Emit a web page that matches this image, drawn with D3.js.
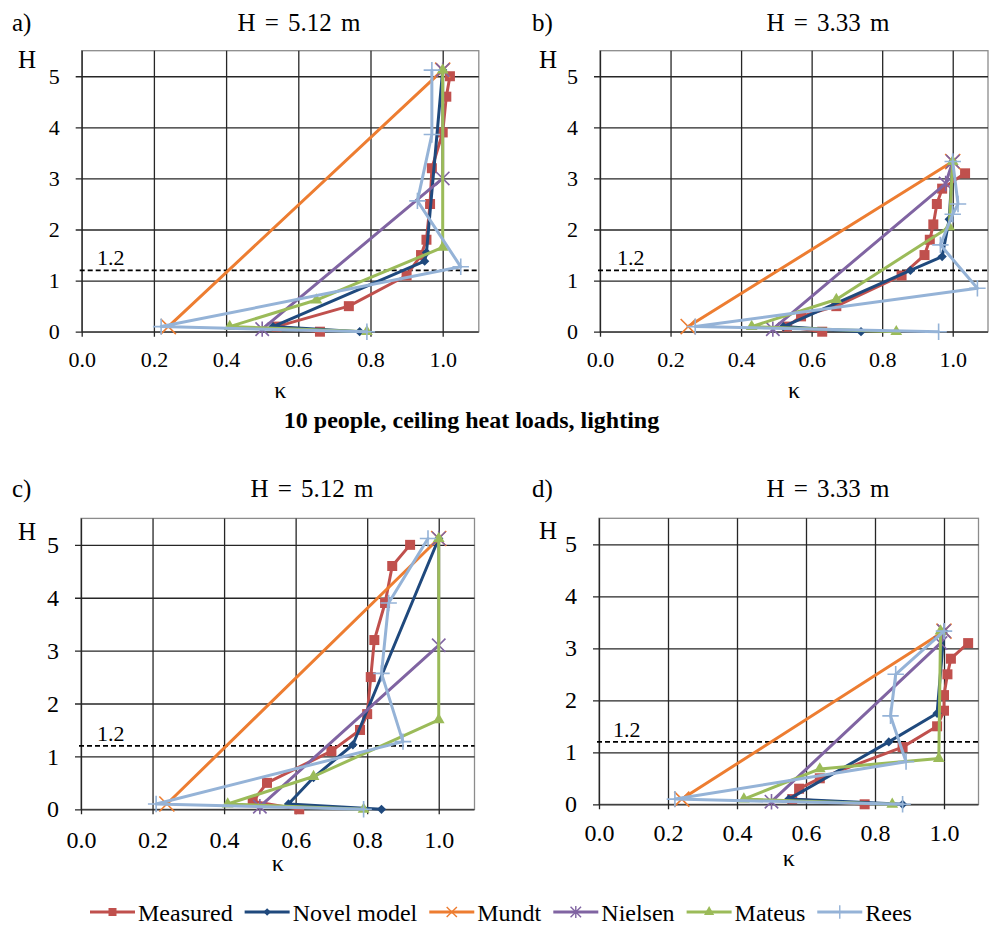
<!DOCTYPE html>
<meta charset="utf-8">
<style>
  body {
    margin: 0;
    background: #fff;
  }

  svg {
    display: block;
    font-family: "Liberation Serif", "Times New Roman", serif;
  }

  .grid line {
    stroke: #262626;
    stroke-width: 1.3;
  }

  .frame {
    fill: none;
    stroke: #8c8c8c;
    stroke-width: 1.3;
  }

  .series {
    fill: none;
    stroke-width: 3;
    stroke-linejoin: round;
    stroke-linecap: round;
  }
</style>

<body>
  <svg width="997" height="927"></svg>
</body>
<script src="https://d3js.org/d3.v7.min.js"></script>
<script>
  // axis ticks, shared by all four panels
  var xTicks = [0.0, 0.2, 0.4, 0.6, 0.8, 1.0];
  var yTicks = [0, 1, 2, 3, 4, 5];
  var refHeight = 1.2;

  var seriesNames = ["Measured", "Novel model", "Mundt", "Nielsen", "Mateus", "Rees"];

  // each point is [kappa, H]
  // a) 10 people, H = 5.12 m
  var aMeasured = [[0.66, 0.0], [0.54, 0.1], [0.74, 0.5], [0.90, 1.1], [0.94, 1.5], [0.955, 1.8], [0.965, 2.5], [0.97, 3.2], [1.0, 3.9], [1.01, 4.6], [1.02, 5.0]];
  var aNovel = [[0.77, 0.0], [0.53, 0.1], [0.95, 1.38], [0.955, 1.55], [1.0, 5.12]];
  var aMundt = [[0.24, 0.1], [1.0, 5.12]];
  var aNielsen = [[0.5, 0.05], [1.0, 3.0], [1.0, 5.12]];
  var aMateus = [[0.79, 0.0], [0.41, 0.1], [0.65, 0.62], [1.0, 1.65], [1.0, 5.12]];
  var aRees = [[0.79, 0.0], [0.22, 0.1], [1.05, 1.27], [0.93, 2.56], [0.97, 3.86], [0.97, 5.12]];

  // b) H = 3.33 m
  var bMeasured = [[0.63, 0.0], [0.53, 0.1], [0.57, 0.3], [0.67, 0.5], [0.855, 1.1], [0.92, 1.5], [0.935, 1.8], [0.945, 2.1], [0.955, 2.5], [0.97, 2.8], [1.035, 3.1]];
  var bNovel = [[0.74, 0.0], [0.52, 0.1], [0.88, 1.2], [0.97, 1.47], [0.99, 2.2], [1.0, 3.33]];
  var bMundt = [[0.25, 0.1], [1.0, 3.33]];
  var bNielsen = [[0.49, 0.05], [0.98, 2.9], [1.0, 3.33]];
  var bMateus = [[0.84, 0.0], [0.43, 0.1], [0.67, 0.63], [0.99, 2.05], [1.0, 3.33]];
  var bRees = [[0.96, 0.0], [0.27, 0.1], [1.07, 0.85], [0.965, 1.7], [1.0, 2.3], [1.015, 2.5], [1.0, 3.33]];

  // c) H = 5.12 m
  var cMeasured = [[0.61, 0.0], [0.48, 0.15], [0.52, 0.5], [0.70, 1.1], [0.78, 1.5], [0.80, 1.8], [0.81, 2.5], [0.82, 3.2], [0.85, 3.9], [0.87, 4.6], [0.92, 5.0]];
  var cNovel = [[0.84, 0.0], [0.58, 0.1], [0.65, 0.6], [0.76, 1.22], [1.0, 5.12]];
  var cMundt = [[0.24, 0.1], [1.0, 5.12]];
  var cNielsen = [[0.5, 0.05], [1.0, 3.1], [1.0, 5.12]];
  var cMateus = [[0.79, 0.0], [0.41, 0.1], [0.65, 0.62], [1.0, 1.69], [1.0, 5.12]];
  var cRees = [[0.79, 0.0], [0.21, 0.1], [0.9, 1.28], [0.84, 2.57], [0.86, 3.9], [0.97, 5.12]];

  // d) H = 3.33 m
  var dMeasured = [[0.77, 0.0], [0.56, 0.1], [0.58, 0.3], [0.64, 0.5], [0.88, 1.1], [0.98, 1.5], [1.0, 1.8], [1.0, 2.1], [1.01, 2.5], [1.02, 2.8], [1.07, 3.1]];
  var dNovel = [[0.88, 0.0], [0.55, 0.1], [0.84, 1.2], [0.98, 1.75], [1.0, 3.33]];
  var dMundt = [[0.24, 0.1], [1.0, 3.33]];
  var dNielsen = [[0.5, 0.05], [0.99, 3.1], [1.0, 3.33]];
  var dMateus = [[0.85, 0.0], [0.42, 0.1], [0.64, 0.68], [0.985, 0.88], [0.99, 3.33]];
  var dRees = [[0.88, 0.0], [0.22, 0.1], [0.89, 0.82], [0.845, 1.7], [0.86, 2.5], [1.0, 3.33]];

  // excel style star: an X with a vertical bar through it
  var symbolStar = {
    draw: function (ctx, size) {
      var r = Math.sqrt(size) / 2;
      ctx.moveTo(-r, -r);
      ctx.lineTo(r, r);
      ctx.moveTo(-r, r);
      ctx.lineTo(r, -r);
      ctx.moveTo(0, -r * 1.15);
      ctx.lineTo(0, r * 1.15);
    }
  };

  var styles = [
    { color: "#C0504D", symbol: d3.symbolSquare, size: 100, legendSize: 64, filled: true },
    { color: "#1F497D", symbol: d3.symbolDiamond2, size: 55, legendSize: 35, filled: true },
    { color: "#ED7D31", symbol: d3.symbolTimes, size: 150, legendSize: 70, filled: false },
    { color: "#8064A2", symbol: symbolStar, size: 180, legendSize: 110, filled: false },
    { color: "#9BBB59", symbol: d3.symbolTriangle, size: 60, legendSize: 45, filled: true },
    { color: "#95B3D7", symbol: d3.symbolPlus, size: 90, legendSize: 60, filled: false }
  ];

  var panels = [
    { label: "a)", title: "H = 5.12 m", data: [aMeasured, aNovel, aMundt, aNielsen, aMateus, aRees],
      xr: [81.7, 478.8], yr: [331.7, 50.7], fs: 22, labelX: 12, titleX: 299, titleY: 31, hX: 18, hY: 68, kY: 398, xLab: 35, refX: 97 },
    { label: "b)", title: "H = 3.33 m", data: [bMeasured, bNovel, bMundt, bNielsen, bMateus, bRees],
      xr: [600, 988], yr: [331.7, 50.7], fs: 22, labelX: 532, titleX: 828, titleY: 31, hX: 539, hY: 68, kY: 398, xLab: 35, refX: 617 },
    { label: "c)", title: "H = 5.12 m", data: [cMeasured, cNovel, cMundt, cNielsen, cMateus, cRees],
      xr: [81, 474.5], yr: [809.3, 518.4], fs: 24, labelX: 12, titleX: 312, titleY: 497, hX: 18, hY: 540, kY: 871, xLab: 39, refX: 97 },
    { label: "d)", title: "H = 3.33 m", data: [dMeasured, dNovel, dMundt, dNielsen, dMateus, dRees],
      xr: [599, 978.5], yr: [804.3, 518.3], fs: 24, labelX: 532, titleX: 828, titleY: 497, hX: 539, hY: 539, kY: 866, xLab: 37, refX: 613 }
  ];

  var svg = d3.select("svg");

  panels.forEach(drawPanel);

  function drawPanel(p) {
    var x = d3.scaleLinear().domain([0, 1.1]).range(p.xr),
      y = d3.scaleLinear().domain([0, 5.5]).range(p.yr);
    var w = x(1.1) - x(0),
      h = y(0) - y(5.5);

    var g = svg.append("g").attr("transform", "translate(" + x(0) + "," + y(5.5) + ")");
    x.range([0, w]);
    y.range([h, 0]);

    g.append("rect")
      .attr("class", "frame")
      .attr("width", w)
      .attr("height", h);

    // y gridlines + labels
    var yAxis = g.append("g")
      .attr("class", "grid")
      .call(d3.axisLeft(y).tickValues(yTicks).tickFormat(d3.format("d")).tickSizeInner(-w).tickSizeOuter(0).tickPadding(22));
    yAxis.select(".domain").remove();
    yAxis.selectAll(".tick line").attr("x1", -6);

    // x gridlines + labels
    var xAxis = g.append("g")
      .attr("class", "grid")
      .attr("transform", "translate(0," + h + ")")
      .call(d3.axisBottom(x).tickValues(xTicks).tickFormat(d3.format(".1f")).tickSizeInner(-h).tickSizeOuter(0)
        .tickPadding(p.xLab - 0.71 * p.fs));
    xAxis.select(".domain").remove();
    xAxis.selectAll(".tick line").attr("y1", 5);

    svg.selectAll(".grid").attr("font-size", null).attr("font-family", null);
    g.selectAll(".grid text").attr("font-size", p.fs + "px").attr("fill", "#000");

    // 1.2 m reference line
    g.append("line")
      .attr("x1", -2)
      .attr("x2", w)
      .attr("y1", y(refHeight))
      .attr("y2", y(refHeight))
      .attr("stroke", "#000")
      .attr("stroke-width", 1.6)
      .attr("stroke-dasharray", "5,3");

    var line = d3.line()
      .x(function (d) { return x(d[0]); })
      .y(function (d) { return y(d[1]); });

    p.data.forEach(function (pts, i) {
      var s = styles[i];
      g.append("path")
        .datum(pts)
        .attr("class", "series")
        .attr("stroke", s.color)
        .attr("stroke-width", i == 5 ? 3.4 : 3)
        .attr("d", line);
      g.selectAll(".m" + i)
        .data(pts)
        .enter().append("path")
        .attr("class", "m" + i)
        .attr("transform", function (d) { return "translate(" + x(d[0]) + "," + y(d[1]) + ")"; })
        .attr("d", d3.symbol(s.symbol, s.size))
        .attr("fill", s.filled ? s.color : "none")
        .attr("stroke", s.color)
        .attr("stroke-width", s.filled ? 0 : 1.6);
    });

    // texts (in page coordinates)
    svg.append("text")
      .attr("x", p.labelX).attr("y", p.titleY)
      .attr("font-size", "25px")
      .text(p.label);
    svg.append("text")
      .attr("x", p.titleX).attr("y", p.titleY)
      .attr("text-anchor", "middle")
      .attr("font-size", "25px")
      .attr("word-spacing", "3px")
      .text(p.title);
    svg.append("text")
      .attr("x", p.hX).attr("y", p.hY)
      .attr("font-size", "25px")
      .text("H");
    svg.append("text")
      .attr("x", (p.xr[0] + p.xr[1]) / 2).attr("y", p.kY)
      .attr("text-anchor", "middle")
      .attr("font-size", "24px")
      .text("κ");
    svg.append("text")
      .attr("x", p.refX).attr("y", p.yr[0] + (p.yr[1] - p.yr[0]) * refHeight / 5.5 - 5)
      .attr("font-size", "22px")
      .text("1.2");
  }

  svg.append("text")
    .attr("x", 471.5)
    .attr("y", 428)
    .attr("text-anchor", "middle")
    .attr("font-weight", "bold")
    .attr("font-size", "24px")
    .text("10 people, ceiling heat loads, lighting");

  // legend
  var legend = svg.append("g").attr("transform", "translate(90,912)");
  var lx = 0;
  seriesNames.forEach(function (name, i) {
    var s = styles[i];
    var item = legend.append("g").attr("transform", "translate(" + lx + ",0)");
    item.append("line")
      .attr("x1", 0).attr("x2", 45)
      .attr("stroke", s.color)
      .attr("stroke-width", 3);
    item.append("path")
      .attr("transform", "translate(22.5,0)")
      .attr("d", d3.symbol(s.symbol, s.legendSize))
      .attr("fill", s.filled ? s.color : "none")
      .attr("stroke", s.color)
      .attr("stroke-width", s.filled ? 0 : 1.4);
    var t = item.append("text")
      .attr("x", 48)
      .attr("y", 9)
      .attr("font-size", "24px")
      .text(name);
    lx += 48 + t.node().getComputedTextLength() + 12;
  });
</script>
